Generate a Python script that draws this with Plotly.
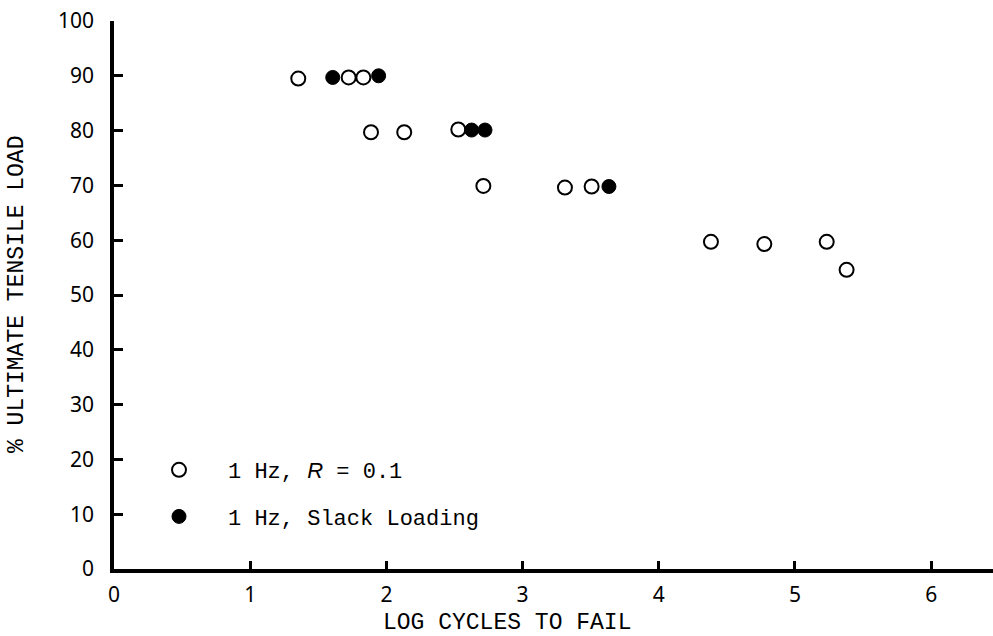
import plotly.graph_objects as go

# Data
open_x = [1.353, 1.723, 1.831, 1.887, 2.131, 2.528, 2.712, 3.311, 3.507, 4.383, 4.775, 5.233, 5.379]
open_y = [89.5, 89.7, 89.7, 79.7, 79.7, 80.2, 69.9, 69.6, 69.8, 59.7, 59.3, 59.7, 54.6]
filled_x = [1.606, 1.943, 2.626, 2.724, 3.634]
filled_y = [89.7, 90.0, 80.1, 80.1, 69.8]

x_ticks = [0, 1, 2, 3, 4, 5, 6]
y_ticks = [0, 10, 20, 30, 40, 50, 60, 70, 80, 90, 100]

open_label = '1 Hz, <i><span style="font-family:Liberation Sans">R</span></i> = 0.1'
filled_label = '1 Hz, Slack Loading'

mono = "Liberation Mono, Courier New, monospace"
sans = "Noto Sans, DejaVu Sans, sans-serif"

fig = go.Figure()
fig.add_trace(go.Scatter(
    x=open_x, y=open_y, mode="markers", name=open_label,
    legendgroup="a",
    marker=dict(symbol="circle-open", size=14, color="black", line=dict(width=2, color="black")),
    cliponaxis=False,
))
fig.add_trace(go.Scatter(
    x=filled_x, y=filled_y, mode="markers", name=filled_label,
    legendgroup="b",
    marker=dict(symbol="circle", size=14, color="black", line=dict(width=1, color="black")),
    cliponaxis=False,
))

# outer halves of the crossing ticks (inner halves are the axis ticks)
shapes = []
for v in x_ticks[1:]:
    shapes.append(dict(type="line", xref="x", yref="y", x0=v, x1=v,
                       ysizemode="pixel", yanchor=0, y0=0, y1=-9,
                       line=dict(color="black", width=2.5)))
for v in y_ticks[1:]:
    shapes.append(dict(type="line", xref="x", yref="y", y0=v, y1=v,
                       xsizemode="pixel", xanchor=0, x0=0, x1=-8,
                       line=dict(color="black", width=2.5)))

fig.update_layout(
    width=993, height=636,
    margin=dict(l=114, r=0, t=21, b=67),
    paper_bgcolor="white", plot_bgcolor="white",
    showlegend=True,
    legend=dict(
        x=(130 - 114) / 879, y=(569 - 449) / 548, xanchor="left", yanchor="top",
        font=dict(family=mono, size=22, color="black"),
        bgcolor="rgba(0,0,0,0)", itemwidth=88,
        traceorder="grouped", tracegroupgap=15,
    ),
    shapes=shapes,
    xaxis=dict(
        range=[0, 6.454], tickvals=x_ticks, ticktext=[str(v) for v in x_ticks],
        showgrid=False, zeroline=False, showline=True, linecolor="black", linewidth=3.5,
        ticks="inside", ticklen=8, tickwidth=2.5, tickcolor="black",
        tickfont=dict(family=sans, size=21, color="black"),
        ticklabelstandoff=4,
    ),
    yaxis=dict(
        range=[0, 100], tickvals=y_ticks, ticktext=[str(v) for v in y_ticks],
        showgrid=False, zeroline=False, showline=True, linecolor="black", linewidth=3.5,
        ticks="inside", ticklen=9, tickwidth=2.5, tickcolor="black",
        tickfont=dict(family=sans, size=21, color="black"),
        ticklabelstandoff=12,
    ),
    annotations=[
        dict(text="LOG CYCLES TO FAIL", xref="paper", yref="paper",
             x=(507 - 114) / 879, y=-(623 - 569) / 548, xanchor="center", yanchor="middle",
             showarrow=False, font=dict(family=mono, size=23, color="black")),
        dict(text="% ULTIMATE TENSILE LOAD", xref="paper", yref="paper",
             x=(17 - 114) / 879, y=(569 - 295) / 548, xanchor="center", yanchor="middle",
             textangle=-90, showarrow=False, font=dict(family=mono, size=23, color="black")),
    ],
)

fig.write_html("out.html")
